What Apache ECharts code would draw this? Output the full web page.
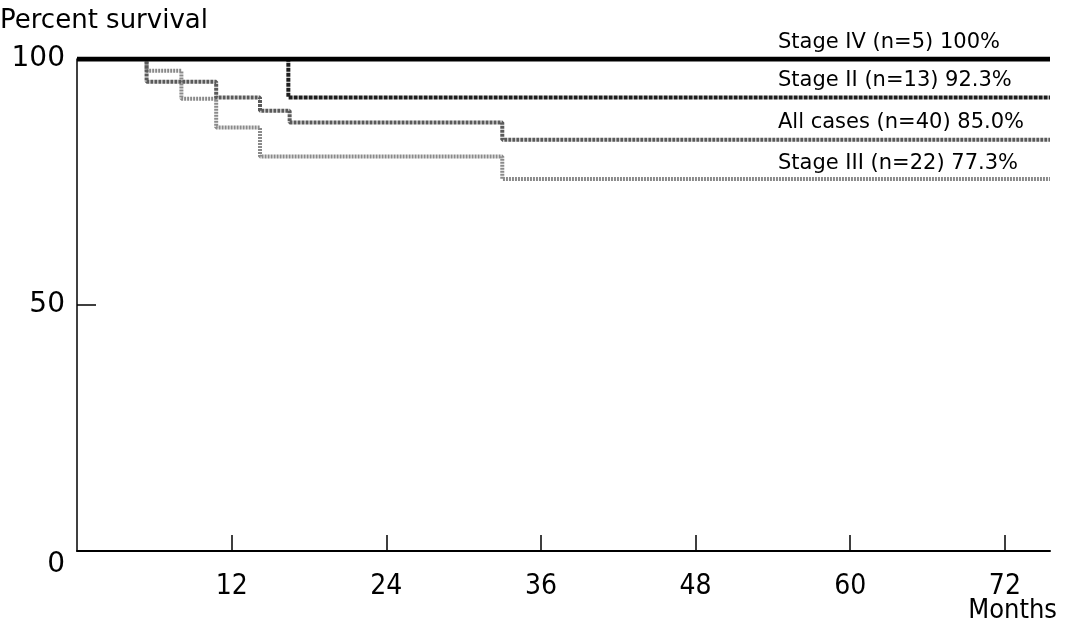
<!DOCTYPE html>
<html><head><meta charset="utf-8">
<script src="https://cdn.jsdelivr.net/npm/echarts@6/dist/echarts.min.js"></script>
<style>html,body{margin:0;padding:0;background:#fff}#c{width:1069px;height:628px}</style>
</head><body><div id="c"></div>
<script>
// Data (months, percent survival)
const stageIV_t = [0, 75.5];
const stageIV_v = [100, 100];
const stageII_t = [0, 16.4, 75.5];
const stageII_v = [100, 92.2, 92.2];
const all_t = [0, 5.4, 10.8, 14.2, 16.5, 33.0, 75.5];
const all_v = [100, 95.4, 92.2, 89.5, 87.1, 83.6, 83.6];
const stageIII_t = [0, 5.4, 8.1, 10.8, 14.2, 33.0, 75.5];
const stageIII_v = [100, 97.6, 91.9, 86.1, 80.2, 75.6, 75.6];
const xTicks = [12, 24, 36, 48, 60, 72];
const yTicks = [0, 50, 100];
const labels = ['Stage IV (n=5) 100%', 'Stage II (n=13) 92.3%', 'All cases (n=40) 85.0%', 'Stage III (n=22) 77.3%'];

const zip = (t, v) => t.map((x, i) => [x, v[i]]);
const chart = echarts.init(document.getElementById('c'), null, {renderer: 'canvas'});
const lblFont = 'DejaVu Sans';
const narrow = '"Liberation Sans Narrow", "DejaVu Sans Condensed", sans-serif';
const txt = (text, left, top, size, family) => ({type: 'text', left, top,
  style: {text, fontSize: size, fontFamily: family || lblFont, fill: '#000'}});
chart.setOption({
  animation: false,
  grid: {left: 77, right: 19, top: 59, bottom: 77},
  xAxis: {
    type: 'value', min: 0, max: 75.5, interval: 12,
    axisLine: {lineStyle: {color: '#000', width: 2}},
    axisTick: {inside: true, length: 16, customValues: xTicks, lineStyle: {color: '#000', width: 1.5}},
    axisLabel: {margin: 22, color: '#000', fontSize: 28, fontFamily: narrow, customValues: xTicks,
      formatter: v => String(v)},
    splitLine: {show: false}
  },
  yAxis: {
    type: 'value', min: 0, max: 100, interval: 50,
    axisLine: {show: true, lineStyle: {color: '#000', width: 1.5}},
    axisTick: {show: true, inside: true, length: 19, customValues: [50], lineStyle: {color: '#000', width: 1.5}},
    axisLabel: {margin: 12, color: '#000', fontSize: 28, fontFamily: lblFont, customValues: yTicks,
      formatter: v => v === 0 ? '{z|0}' : String(v),
      rich: {z: {fontSize: 28, fontFamily: lblFont, color: '#000', padding: [28, 0, 0, 0]}}},
    splitLine: {show: false}
  },
  series: [
    {name: 'Stage III', type: 'line', step: 'end', showSymbol: false, data: zip(stageIII_t, stageIII_v),
      lineStyle: {color: '#8a8a8a', width: 4, type: [2, 1]}, z: 2},
    {name: 'All cases', type: 'line', step: 'end', showSymbol: false, data: zip(all_t, all_v),
      lineStyle: {color: '#5a5a5a', width: 4, type: [3, 1]}, z: 3},
    {name: 'Stage II', type: 'line', step: 'end', showSymbol: false, data: zip(stageII_t, stageII_v),
      lineStyle: {color: '#1e1e1e', width: 4, type: [4, 1]}, z: 4},
    {name: 'Stage IV', type: 'line', step: 'end', showSymbol: false, data: zip(stageIV_t, stageIV_v),
      lineStyle: {color: '#000', width: 5}, z: 5}
  ],
  graphic: [
    txt('Percent survival', 0, 8, 26),
    txt(labels[0], 778, 32, 21),
    txt(labels[1], 778, 70, 21),
    txt(labels[2], 778, 112, 21),
    txt(labels[3], 778, 153, 21),
    {type: 'text', right: 12, top: 597, style: {text: 'Months', fontSize: 27, fontFamily: narrow, fill: '#000'}}
  ]
});
</script></body></html>
